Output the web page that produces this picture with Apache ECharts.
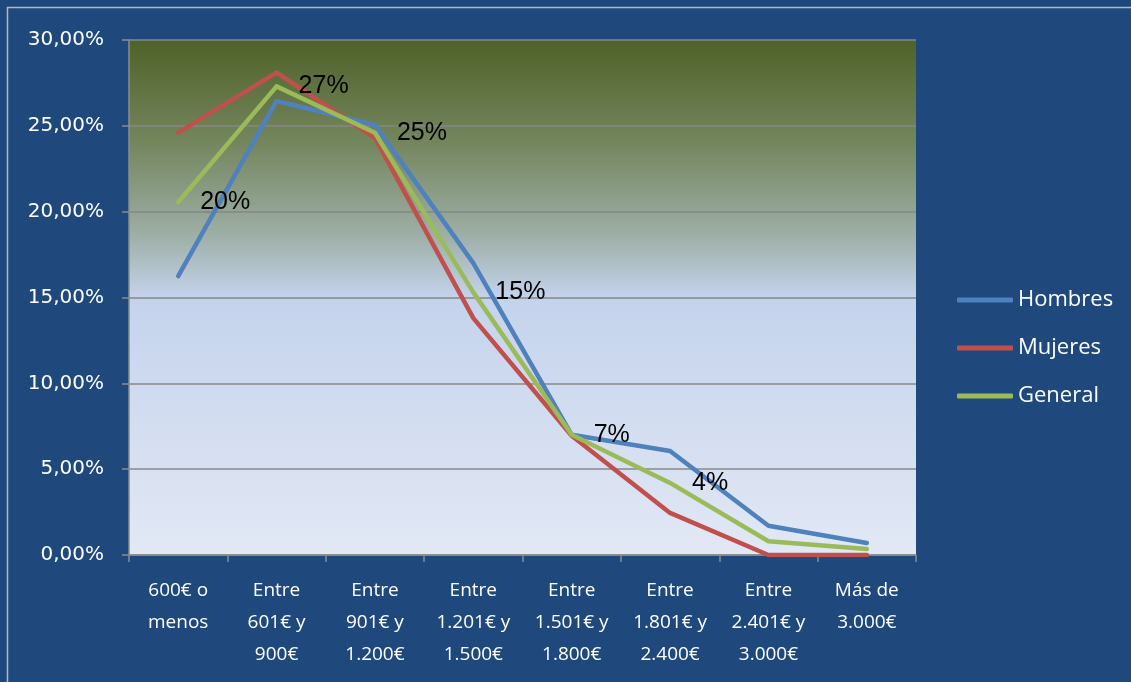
<!DOCTYPE html>
<html><head><meta charset="utf-8">
<script src="https://cdn.jsdelivr.net/npm/echarts@6/dist/echarts.min.js"></script>
<style>html,body{margin:0;padding:0;background:#1F497D;}#c{width:1131px;height:682px;}</style>
</head><body><div id="c"></div>
<script>
const categories = ["600€ o\nmenos","Entre\n601€ y\n900€","Entre\n901€ y\n1.200€","Entre\n1.201€ y\n1.500€","Entre\n1.501€ y\n1.800€","Entre\n1.801€ y\n2.400€","Entre\n2.401€ y\n3.000€","Más de\n3.000€"];
const hombres = [16.25, 26.45, 25.05, 17.0, 7.0, 6.06, 1.7, 0.7];
const mujeres = [24.6, 28.1, 24.3, 13.8, 6.95, 2.45, 0.0, 0.0];
const general = [20.55, 27.3, 24.6, 15.3, 7.0, 4.2, 0.8, 0.35];
const generalLabels = ["20%","27%","25%","15%","7%","4%","",""];
const yTicks = {min:0, max:30, interval:5};

const chart = echarts.init(document.getElementById('c'));
const lineStyle = c => ({color:c, width:4.5, cap:'round', join:'round'});
chart.setOption({
  backgroundColor:'#1F497D',
  animation:false,
  graphic:[{type:'rect', shape:{x:7.5,y:7.5,width:1130,height:680}, style:{fill:null, stroke:'#B8B8B8', lineWidth:1.5}, silent:true}],
  grid:{left:129, right:215, top:40, bottom:127, show:true, borderWidth:0,
    backgroundColor:{type:'linear',x:0,y:0,x2:0,y2:1,colorStops:[
      {offset:0,color:'#4F6228'},{offset:0.2,color:'#74865E'},{offset:0.38,color:'#9EAFA7'},{offset:0.5,color:'#C4D3EC'},{offset:1,color:'#E2E8F5'}]}},
  legend:{orient:'vertical', left:957, top:289, padding:0, itemWidth:56, itemHeight:5, itemGap:26, icon:'roundRect',
    textStyle:{color:'#FFFFFF', fontSize:22, fontFamily:'Open Sans'},
    data:['Hombres','Mujeres','General']},
  xAxis:{type:'category', data:categories, boundaryGap:true,
    axisLine:{lineStyle:{color:'#8C8C8C', width:1.5}},
    axisTick:{show:true, length:7, lineStyle:{color:'#8C8C8C', width:1.5}},
    axisLabel:{color:'#FFFFFF', fontSize:19, fontFamily:'Open Sans', lineHeight:32, margin:20, interval:0, align:'center'}},
  yAxis:{type:'value', min:yTicks.min, max:yTicks.max, interval:yTicks.interval,
    axisLine:{show:true, lineStyle:{color:'#8C8C8C', width:1.5}},
    axisTick:{show:true, length:7, lineStyle:{color:'#8C8C8C', width:1.5}},
    splitLine:{lineStyle:{color:'#878787', width:1.5}},
    axisLabel:{color:'#FFFFFF', fontSize:20, fontFamily:'DejaVu Sans', margin:25,
      formatter:v=>v.toFixed(2).replace('.',',')+'%'}},
  series:[
    {name:'Hombres', type:'line', data:hombres, symbol:'none', lineStyle:lineStyle('#4F81BD'), itemStyle:{color:'#4F81BD'}},
    {name:'Mujeres', type:'line', data:mujeres, symbol:'none', lineStyle:lineStyle('#C0504D'), itemStyle:{color:'#C0504D'}},
    {name:'General', type:'line', data:general, symbol:'circle', symbolSize:0.01, showSymbol:true, lineStyle:lineStyle('#9BBB59'), itemStyle:{color:'#9BBB59'},
      label:{show:true, position:'right', distance:22, color:'#000000', fontSize:25, fontFamily:'Liberation Sans',
        formatter:p=>generalLabels[p.dataIndex]}}
  ]
});
</script></body></html>
